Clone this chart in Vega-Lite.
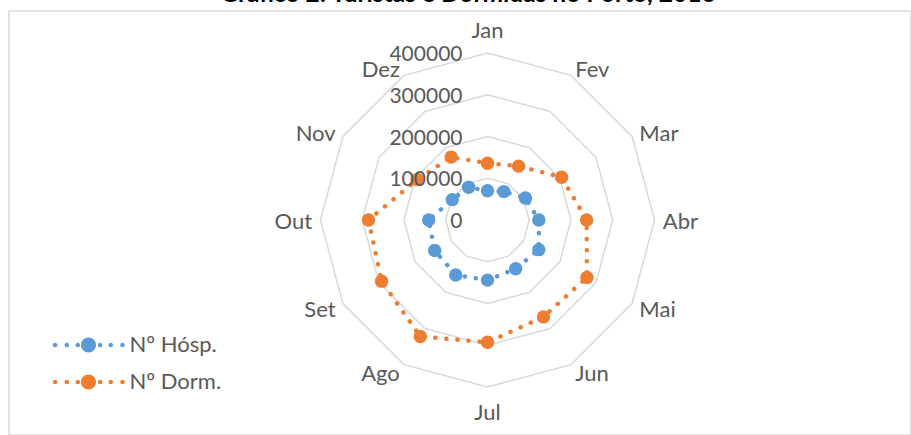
{
  "$schema": "https://vega.github.io/schema/vega-lite/v6.json",
  "width": 902,
  "height": 424,
  "autosize": "none",
  "padding": {"left": 9, "top": 11, "right": 0, "bottom": 0},
  "background": "white",
  "config": {"view": {"stroke": "#D9D9D9", "strokeWidth": 1.5}, "font": "Lato"},
  "title": {"text": "Gráfico 2: Turistas e Dormidas no Porto, 2016", "fontSize": 24.5, "fontWeight": "bold", "font": "Lato", "color": "#000000", "anchor": "middle", "frame": "group", "offset": 0, "dx": 8, "dy": 15.5, "baseline": "alphabetic"},
  "datasets": {
    "months": [
      {"month": "Jan", "idx": 0}, {"month": "Fev", "idx": 1}, {"month": "Mar", "idx": 2},
      {"month": "Abr", "idx": 3}, {"month": "Mai", "idx": 4}, {"month": "Jun", "idx": 5},
      {"month": "Jul", "idx": 6}, {"month": "Ago", "idx": 7}, {"month": "Set", "idx": 8},
      {"month": "Out", "idx": 9}, {"month": "Nov", "idx": 10}, {"month": "Dez", "idx": 11}
    ],
    "rings": [
      {"level": 100000, "idx": [0, 1, 2, 3, 4, 5, 6, 7, 8, 9, 10, 11]},
      {"level": 200000, "idx": [0, 1, 2, 3, 4, 5, 6, 7, 8, 9, 10, 11]},
      {"level": 300000, "idx": [0, 1, 2, 3, 4, 5, 6, 7, 8, 9, 10, 11]},
      {"level": 400000, "idx": [0, 1, 2, 3, 4, 5, 6, 7, 8, 9, 10, 11]}
    ],
    "ticks": [
      {"level": 0, "label": "0"},
      {"level": 100000, "label": "100000"},
      {"level": 200000, "label": "200000"},
      {"level": 300000, "label": "300000"},
      {"level": 400000, "label": "400000"}
    ],
    "series": [
      {"serie": "Nº Hósp.", "month": "Jan", "idx": 0, "value": 70000},
      {"serie": "Nº Hósp.", "month": "Fev", "idx": 1, "value": 78500},
      {"serie": "Nº Hósp.", "month": "Mar", "idx": 2, "value": 105000},
      {"serie": "Nº Hósp.", "month": "Abr", "idx": 3, "value": 123000},
      {"serie": "Nº Hósp.", "month": "Mai", "idx": 4, "value": 142000},
      {"serie": "Nº Hósp.", "month": "Jun", "idx": 5, "value": 135000},
      {"serie": "Nº Hósp.", "month": "Jul", "idx": 6, "value": 144000},
      {"serie": "Nº Hósp.", "month": "Ago", "idx": 7, "value": 152000},
      {"serie": "Nº Hósp.", "month": "Set", "idx": 8, "value": 146000},
      {"serie": "Nº Hósp.", "month": "Out", "idx": 9, "value": 141000},
      {"serie": "Nº Hósp.", "month": "Nov", "idx": 10, "value": 97500},
      {"serie": "Nº Hósp.", "month": "Dez", "idx": 11, "value": 90500},
      {"serie": "Nº Dorm.", "month": "Jan", "idx": 0, "value": 136000},
      {"serie": "Nº Dorm.", "month": "Fev", "idx": 1, "value": 149000},
      {"serie": "Nº Dorm.", "month": "Mar", "idx": 2, "value": 205000},
      {"serie": "Nº Dorm.", "month": "Abr", "idx": 3, "value": 237500},
      {"serie": "Nº Dorm.", "month": "Mai", "idx": 4, "value": 275000},
      {"serie": "Nº Dorm.", "month": "Jun", "idx": 5, "value": 268000},
      {"serie": "Nº Dorm.", "month": "Jul", "idx": 6, "value": 293000},
      {"serie": "Nº Dorm.", "month": "Ago", "idx": 7, "value": 322000},
      {"serie": "Nº Dorm.", "month": "Set", "idx": 8, "value": 293000},
      {"serie": "Nº Dorm.", "month": "Out", "idx": 9, "value": 285000},
      {"serie": "Nº Dorm.", "month": "Nov", "idx": 10, "value": 194000},
      {"serie": "Nº Dorm.", "month": "Dez", "idx": 11, "value": 174000}
    ]
  },
  "layer": [
    {
      "data": {"name": "rings"},
      "transform": [
        {"flatten": ["idx"]},
        {"calculate": "datum.level * sin(datum.idx * PI / 6)", "as": "px"},
        {"calculate": "datum.level * cos(datum.idx * PI / 6)", "as": "py"}
      ],
      "mark": {"type": "line", "interpolate": "linear-closed", "stroke": "#D9D9D9", "strokeWidth": 1.5},
      "encoding": {
        "x": {"field": "px", "type": "quantitative", "scale": {"domain": [-1146108, 1014371], "nice": false, "zero": false}, "axis": null},
        "y": {"field": "py", "type": "quantitative", "scale": {"domain": [-514970, 500599], "nice": false, "zero": false}, "axis": null},
        "detail": {"field": "level", "type": "nominal"},
        "order": {"field": "idx", "type": "quantitative"}
      }
    },
    {
      "data": {"name": "months"},
      "transform": [
        {"filter": "datum.idx >= 1 && datum.idx <= 5"},
        {"calculate": "420000 * sin(datum.idx * PI / 6)", "as": "px"},
        {"calculate": "420000 * cos(datum.idx * PI / 6)", "as": "py"}
      ],
      "mark": {"type": "text", "align": "left", "baseline": "middle", "dy": 2, "fontSize": 22, "color": "#595959", "font": "Lato"},
      "encoding": {
        "x": {"field": "px", "type": "quantitative"},
        "y": {"field": "py", "type": "quantitative"},
        "text": {"field": "month"}
      }
    },
    {
      "data": {"name": "months"},
      "transform": [
        {"filter": "datum.idx >= 7"},
        {"calculate": "420000 * sin(datum.idx * PI / 6)", "as": "px"},
        {"calculate": "420000 * cos(datum.idx * PI / 6)", "as": "py"}
      ],
      "mark": {"type": "text", "align": "right", "baseline": "middle", "dy": 2, "fontSize": 22, "color": "#595959", "font": "Lato"},
      "encoding": {
        "x": {"field": "px", "type": "quantitative"},
        "y": {"field": "py", "type": "quantitative"},
        "text": {"field": "month"}
      }
    },
    {
      "data": {"name": "months"},
      "transform": [
        {"filter": "datum.idx == 0 || datum.idx == 6"},
        {"calculate": "458000 * sin(datum.idx * PI / 6)", "as": "px"},
        {"calculate": "458000 * cos(datum.idx * PI / 6)", "as": "py"}
      ],
      "mark": {"type": "text", "align": "center", "baseline": "middle", "dy": 2, "fontSize": 22, "color": "#595959", "font": "Lato"},
      "encoding": {
        "x": {"field": "px", "type": "quantitative"},
        "y": {"field": "py", "type": "quantitative"},
        "text": {"field": "month"}
      }
    },
    {
      "data": {"name": "series"},
      "transform": [
        {"calculate": "datum.value * sin(datum.idx * PI / 6)", "as": "px"},
        {"calculate": "datum.value * cos(datum.idx * PI / 6)", "as": "py"}
      ],
      "mark": {"type": "line", "interpolate": "linear-closed", "strokeWidth": 4.5, "strokeDash": [0.1, 11], "strokeCap": "round"},
      "encoding": {
        "x": {"field": "px", "type": "quantitative"},
        "y": {"field": "py", "type": "quantitative"},
        "stroke": {"field": "serie", "type": "nominal", "scale": {"domain": ["Nº Hósp.", "Nº Dorm."], "range": ["#5B9BD5", "#ED7D31"]},
          "legend": {
            "title": null, "orient": "none", "legendX": 68.5, "legendY": 323, "padding": 0,
            "symbolType": "M-4.757,0A0.307,0.307,0,1,0,-4.143,0A0.307,0.307,0,1,0,-4.757,0ZM-3.197,0A0.307,0.307,0,1,0,-2.583,0A0.307,0.307,0,1,0,-3.197,0ZM-1.737,0A0.307,0.307,0,1,0,-1.123,0A0.307,0.307,0,1,0,-1.737,0ZM-1,0A1,1,0,1,0,1,0A1,1,0,1,0,-1,0ZM1.243,0A0.307,0.307,0,1,0,1.857,0A0.307,0.307,0,1,0,1.243,0ZM2.663,0A0.307,0.307,0,1,0,3.277,0A0.307,0.307,0,1,0,2.663,0ZM4.223,0A0.307,0.307,0,1,0,4.837,0A0.307,0.307,0,1,0,4.223,0Z",
            "symbolSize": 225, "symbolStrokeWidth": 0, "symbolOpacity": 1,
            "labelFontSize": 22, "labelColor": "#595959", "labelFont": "Lato", "labelOffset": 30,
            "rowPadding": 15
          }
        },
        "detail": {"field": "serie"},
        "order": {"field": "idx", "type": "quantitative"}
      }
    },
    {
      "data": {"name": "series"},
      "transform": [
        {"calculate": "datum.value * sin(datum.idx * PI / 6)", "as": "px"},
        {"calculate": "datum.value * cos(datum.idx * PI / 6)", "as": "py"}
      ],
      "mark": {"type": "circle", "size": 180, "opacity": 1},
      "encoding": {
        "x": {"field": "px", "type": "quantitative"},
        "y": {"field": "py", "type": "quantitative"},
        "fill": {"field": "serie", "type": "nominal", "scale": {"domain": ["Nº Hósp.", "Nº Dorm."], "range": ["#5B9BD5", "#ED7D31"]},
          "legend": {
            "title": null, "orient": "none", "legendX": 68.5, "legendY": 323, "padding": 0,
            "symbolType": "M-4.757,0A0.307,0.307,0,1,0,-4.143,0A0.307,0.307,0,1,0,-4.757,0ZM-3.197,0A0.307,0.307,0,1,0,-2.583,0A0.307,0.307,0,1,0,-3.197,0ZM-1.737,0A0.307,0.307,0,1,0,-1.123,0A0.307,0.307,0,1,0,-1.737,0ZM-1,0A1,1,0,1,0,1,0A1,1,0,1,0,-1,0ZM1.243,0A0.307,0.307,0,1,0,1.857,0A0.307,0.307,0,1,0,1.243,0ZM2.663,0A0.307,0.307,0,1,0,3.277,0A0.307,0.307,0,1,0,2.663,0ZM4.223,0A0.307,0.307,0,1,0,4.837,0A0.307,0.307,0,1,0,4.223,0Z",
            "symbolSize": 225, "symbolStrokeWidth": 0, "symbolOpacity": 1,
            "labelFontSize": 22, "labelColor": "#595959", "labelFont": "Lato", "labelOffset": 30,
            "rowPadding": 15
          }
        }
      }
    },
    {
      "data": {"name": "ticks"},
      "mark": {"type": "text", "align": "right", "baseline": "middle", "dx": -25, "dy": 2, "fontSize": 21, "color": "#595959", "font": "Lato"},
      "encoding": {
        "x": {"datum": 0, "type": "quantitative"},
        "y": {"field": "level", "type": "quantitative"},
        "text": {"field": "label"}
      }
    }
  ]
}
